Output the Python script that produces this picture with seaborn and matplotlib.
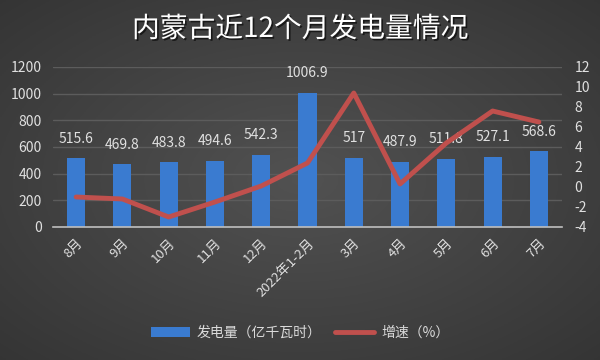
import numpy as np
import matplotlib
matplotlib.use("Agg")
import matplotlib.pyplot as plt
import matplotlib.patheffects as pe
from matplotlib.patches import Patch
from matplotlib.lines import Line2D
import seaborn as sns
import pandas as pd

months = ["8月", "9月", "10月", "11月", "12月", "2022年1-2月", "3月", "4月", "5月", "6月", "7月"]
generation = [515.6, 469.8, 483.8, 494.6, 542.3, 1006.9, 517, 487.9, 511.8, 527.1, 568.6]
growth = [-1.0, -1.2, -3.0, -1.5, 0.1, 2.4, 9.4, 0.3, 4.4, 7.6, 6.5]
left_ticks = [0, 200, 400, 600, 800, 1000, 1200]
right_ticks = [-4, -2, 0, 2, 4, 6, 8, 10, 12]

sns.set_theme(style="dark")
plt.rcParams["font.family"] = ["Noto Sans CJK SC", "DejaVu Sans"]
plt.rcParams["axes.unicode_minus"] = False

df = pd.DataFrame({"month": months, "gen": generation, "growth": growth})

fig = plt.figure(figsize=(6, 3.6), dpi=100)

# background gradient
bg = fig.add_axes([0, 0, 1, 1], zorder=-10)
yy, xx = np.mgrid[0:1:200j, 0:1:300j]
r = np.sqrt(((xx - 0.5) / 0.75) ** 2 + ((yy - 0.5) / 0.75) ** 2)
val = 0.32 - 0.12 * r
bg.imshow(np.dstack([val, val, val]), aspect="auto", extent=[0, 1, 0, 1], origin="lower")
bg.axis("off")

ax = fig.add_axes([53 / 600, 1 - 227 / 360, (562 - 53) / 600, (227 - 67) / 360])
ax.set_facecolor("none")
sns.barplot(data=df, x="month", y="gen", ax=ax, color="#3a7bd0", width=0.39,
            saturation=1, edgecolor="none", zorder=2)
ax.set_ylim(0, 1200)
ax.set_yticks(left_ticks)
ax.set_xlim(-0.5, len(months) - 0.5)
ax.grid(axis="y", color="#5c5c5c", linewidth=1)
ax.grid(axis="x", visible=False)
for s in ["top", "right", "left"]:
    ax.spines[s].set_visible(False)
ax.spines["bottom"].set_color("#bfbfbf")
ax.spines["bottom"].set_linewidth(1.2)
ax.set_xlabel("")
ax.set_ylabel("")
ax.tick_params(axis="y", colors="#e0e0e0", labelsize=10, length=0, pad=8)
ax.tick_params(axis="x", colors="#e0e0e0", labelsize=9.5, length=0, pad=7)
for lab in ax.get_xticklabels():
    lab.set_rotation(45)
    lab.set_ha("right")
    lab.set_va("top")
    lab.set_rotation_mode("anchor")

for i, v in enumerate(generation):
    ax.text(i, v + 95, f"{v:g}", ha="center", va="bottom", color="#e0e0e0", fontsize=10)

ax2 = ax.twinx()
sns.lineplot(data=df, x="month", y="growth", ax=ax2, color="#c0504d", linewidth=3.5,
             sort=False, zorder=3)
ax2.set_ylim(-4, 12)
ax2.set_yticks(right_ticks)
ax2.set_ylabel("")
ax2.grid(False)
for s in ax2.spines.values():
    s.set_visible(False)
ax2.tick_params(axis="y", colors="#e0e0e0", labelsize=10, length=0, pad=9)
ax2.set_xlim(-0.5, len(months) - 0.5)

fig.text(0.5, 1 - 29 / 360, "内蒙古近12个月发电量情况", ha="center", va="center", color="white",
         fontsize=20, fontweight="medium",
         path_effects=[pe.withSimplePatchShadow(offset=(1.2, -1.2), shadow_rgbFace="black", alpha=0.6)])

handles = [Patch(facecolor="#3a7bd0", edgecolor="none"),
           Line2D([0], [0], color="#c0504d", linewidth=3.5)]
leg = fig.legend(handles, ["发电量（亿千瓦时）", "增速（%）"], loc="center", bbox_to_anchor=(0.5, 1 - 333 / 360),
                 ncol=2, frameon=False, fontsize=10, handlelength=2.8, columnspacing=1.0, handletextpad=0.5)
for t in leg.get_texts():
    t.set_color("#d9d9d9")

fig.savefig("out.png", dpi=100)
